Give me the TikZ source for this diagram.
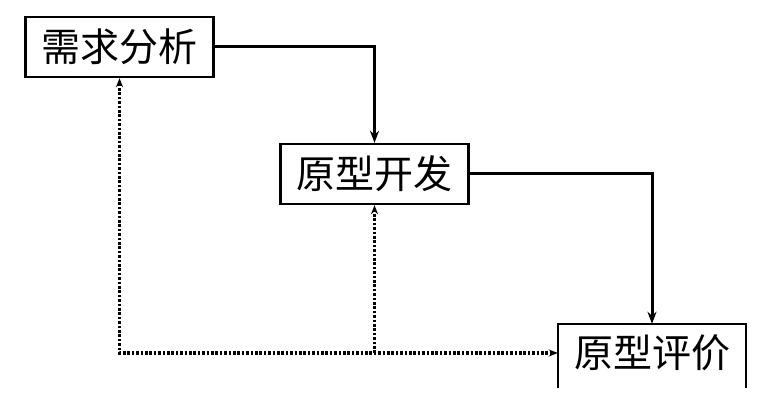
\documentclass[tikz,border=0pt]{standalone}
\usepackage{fontspec}
\newfontfamily\cjk{Noto Sans CJK SC}
\usetikzlibrary{arrows.meta}
\tikzset{
  boxnode/.style={draw, line width=2.4pt, minimum width=188pt, minimum height=60pt, inner sep=0pt,
    font=\cjk\fontsize{39}{39}\selectfont},
  openbox/.style={draw=none, minimum width=188pt, minimum height=58pt, inner sep=0pt,
    font=\cjk\fontsize{39}{39}\selectfont},
  flow/.style={line width=3pt, -{Stealth[length=12pt,width=9pt]}},
  back/.style={line width=3.2pt, dash pattern=on 2.6pt off 1.8pt},
  backtip/.style={-{Stealth[length=9pt,width=7pt]}},
}
\begin{document}
\begin{tikzpicture}[x=1pt,y=1pt]
\useasboundingbox (0,0) rectangle (780,-414);
\node[boxnode] (req) at (119.5,-47) {需求分析};
\node[boxnode] (dev) at (374.5,-174) {原型开发};
\node[openbox] (eval) at (652,-353) {原型评价};
\draw[line width=2.4pt] ([yshift=-6pt]eval.south west) -- (eval.north west) -- (eval.north east) -- ([yshift=-6pt]eval.south east);
\draw[flow] (req.east) -| (dev.north);
\draw[flow] (dev.east) -| (eval.north);
\coordinate (corner) at (req.south |- eval.west);
\coordinate (junc) at (dev.south |- eval.west);
\draw[back, {Stealth[length=9pt,width=7pt]}-{Stealth[length=9pt,width=7pt]}] (req.south) -- (corner) -- (eval.west);
\draw[back, backtip] (junc) -- (dev.south);
\end{tikzpicture}
\end{document}
